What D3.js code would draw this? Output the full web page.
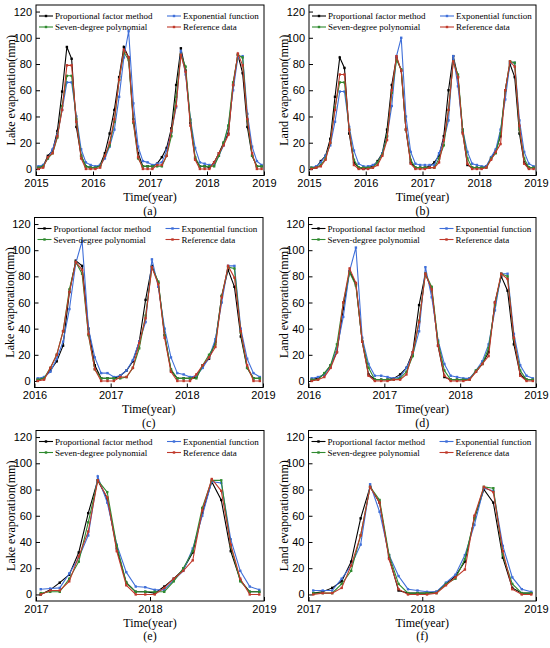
<!DOCTYPE html>
<html>
<head>
<meta charset="utf-8">
<script src="https://cdn.jsdelivr.net/npm/d3@7/dist/d3.min.js"></script>
<style>
  body { margin: 0; background: #fff; }
  svg { display: block; font-family: "Liberation Serif", "Times New Roman", serif; }
</style>
</head>
<body>
<svg id="svg" width="550" height="648"></svg>
<script>
// monthly evaporation (mm), Jan 2015 .. Dec 2018
const lakeRef = [
  0, 1, 9, 12, 25, 45, 79, 79, 36, 8, 0, 0,
  0, 1, 10, 20, 38, 68, 91, 85, 36, 9, 0, 0,
  0, 3, 3, 10, 29, 48, 87, 74, 33, 7, 0, 0,
  0, 5, 12, 18, 26, 64, 88, 79, 38, 12, 0, 0
];
const landRef = [
  0, 1, 2, 7, 20, 45, 72, 72, 30, 3, 0, 0,
  0, 1, 3, 10, 22, 60, 86, 75, 30, 4, 0, 0,
  0, 1, 1, 5, 22, 45, 82, 70, 27, 4, 0, 0,
  0, 1, 7, 13, 19, 60, 82, 78, 33, 4, 0, 0
];

// (a) lake, 2015-2018
const lakePropA = [
  1, 2, 10, 14, 29, 59, 93, 84, 32, 10, 2, 1,
  1, 3, 12, 27, 45, 70, 93, 85, 38, 12, 2, 2,
  2, 4, 9, 16, 31, 64, 92, 75, 35, 8, 2, 2,
  1, 5, 12, 20, 27, 64, 87, 73, 32, 10, 2, 2
];
const lakeExpA = [
  2, 3, 8, 15, 26, 45, 66, 66, 40, 15, 5, 3,
  2, 3, 8, 17, 30, 55, 85, 105, 50, 17, 6, 5,
  3, 4, 5, 14, 28, 47, 90, 72, 38, 16, 5, 4,
  3, 3, 10, 18, 33, 60, 85, 86, 42, 17, 6, 3
];
const lakePolyA = [
  1, 2, 8, 12, 24, 48, 71, 71, 38, 10, 2, 1,
  1, 2, 10, 18, 36, 68, 89, 83, 35, 8, 2, 2,
  2, 2, 2, 10, 25, 55, 87, 78, 37, 9, 2, 2,
  2, 2, 10, 20, 33, 66, 87, 85, 37, 10, 2, 2
];

// (b) land, 2015-2018
const landPropB = [
  0, 1, 6, 10, 23, 55, 85, 77, 27, 5, 1, 0,
  1, 2, 6, 12, 30, 64, 85, 75, 30, 5, 1, 1,
  1, 2, 5, 10, 25, 60, 86, 70, 28, 3, 1, 1,
  1, 2, 8, 14, 25, 60, 80, 70, 27, 5, 1, 1
];
const landExpB = [
  1, 2, 5, 10, 18, 36, 59, 59, 32, 14, 4, 2,
  2, 3, 5, 12, 25, 48, 86, 100, 40, 13, 4, 3,
  3, 3, 3, 12, 22, 37, 86, 63, 30, 13, 4, 3,
  2, 2, 9, 15, 30, 53, 81, 81, 37, 13, 4, 2
];
const landPolyB = [
  1, 1, 3, 8, 20, 47, 66, 66, 30, 7, 1, 1,
  1, 1, 5, 11, 25, 58, 83, 76, 30, 7, 1, 1,
  1, 1, 1, 8, 18, 45, 82, 72, 30, 8, 1, 1,
  1, 1, 8, 12, 27, 60, 82, 81, 30, 8, 1, 1
];

// (c) lake, 2016-2018
const lakePropC = [
  1, 2, 8, 15, 27, 68, 92, 88, 40, 12, 2, 2,
  2, 4, 8, 15, 30, 62, 88, 75, 35, 8, 2, 2,
  2, 3, 12, 17, 30, 65, 85, 72, 34, 10, 2, 2
];
const lakeExpC = [
  2, 3, 7, 17, 30, 55, 90, 107, 40, 18, 6, 6,
  3, 4, 8, 16, 30, 45, 93, 72, 40, 18, 6, 5,
  3, 4, 10, 18, 32, 60, 88, 88, 40, 17, 6, 3
];
const lakePolyC = [
  1, 2, 10, 20, 38, 70, 91, 82, 35, 9, 2, 2,
  2, 2, 3, 10, 25, 50, 87, 76, 35, 9, 2, 2,
  2, 2, 12, 20, 28, 65, 87, 86, 37, 10, 2, 2
];

// (d) land, 2016-2018
const landPropD = [
  1, 2, 5, 12, 22, 55, 84, 74, 30, 5, 1, 1,
  1, 2, 5, 10, 22, 58, 82, 70, 27, 3, 1, 1,
  1, 2, 7, 13, 22, 60, 80, 69, 28, 5, 1, 1
];
const landExpD = [
  2, 3, 5, 11, 25, 49, 84, 102, 33, 13, 4, 4,
  3, 2, 3, 10, 20, 38, 87, 64, 31, 13, 4, 3,
  2, 2, 8, 15, 28, 54, 82, 82, 36, 12, 4, 2
];
const landPolyD = [
  1, 1, 6, 12, 28, 60, 83, 73, 30, 10, 1, 1,
  1, 1, 2, 7, 19, 46, 82, 72, 30, 8, 1, 1,
  1, 1, 8, 13, 25, 58, 82, 80, 32, 8, 1, 1
];

// (e) lake, 2017-2018
const lakePropE = [
  0, 3.5, 9, 15, 32, 62, 87, 73, 35, 9, 2, 2,
  1, 6, 12, 19, 32, 62, 86, 72, 33, 11, 2, 2
];
const lakeExpE = [
  4, 4.5, 5, 16, 28, 45, 90, 70, 38, 17, 6, 5.5,
  3.5, 3.5, 11, 18, 35, 60, 86, 85, 42, 18, 6, 3.5
];
const lakePolyE = [
  1, 2, 2, 12, 25, 55, 87, 78, 37, 9, 2, 2,
  2, 2, 10, 20, 33, 66, 87, 87, 37, 10, 2, 2
];

// (f) land, 2017-2018
const landPropF = [
  1, 2, 5, 10, 25, 58, 82, 70, 28, 3, 1, 1,
  1, 2, 8, 14, 25, 58, 80, 70, 28, 5, 1, 1
];
const landExpF = [
  3, 3, 3, 12, 22, 38, 84, 63, 30, 14, 4, 3,
  2, 2, 9, 15, 30, 53, 81, 79, 37, 13, 4, 2
];
const landPolyF = [
  1, 1, 1, 8, 18, 45, 82, 72, 30, 8, 1, 1,
  1, 1, 8, 12, 27, 58, 82, 81, 30, 8, 1, 1
];

const seriesNames = ["Proportional factor method", "Exponential function", "Seven-degree polynomial", "Reference data"];
const seriesColors = ["#000000", "#3f6fd9", "#2f8a2f", "#c0392b"];
const yTicks = [0, 20, 40, 60, 80, 100, 120];

const panels = [
  { tag: "(a)", title: "Lake evaporation(mm)", start: 2015, x0: 36, x1: 264, y0: 5, y1: 175.5,
    series: [lakePropA, lakeExpA, lakePolyA, lakeRef] },
  { tag: "(b)", title: "Land evaporation(mm)", start: 2015, x0: 309, x1: 536, y0: 5, y1: 175.5,
    series: [landPropB, landExpB, landPolyB, landRef] },
  { tag: "(c)", title: "Lake evaporation(mm)", start: 2016, x0: 34.5, x1: 263, y0: 217.5, y1: 387.5,
    series: [lakePropC, lakeExpC, lakePolyC, lakeRef.slice(12)] },
  { tag: "(d)", title: "Land evaporation(mm)", start: 2016, x0: 308.5, x1: 536, y0: 217.5, y1: 387.5,
    series: [landPropD, landExpD, landPolyD, landRef.slice(12)] },
  { tag: "(e)", title: "Lake evaporation(mm)", start: 2017, x0: 36, x1: 264, y0: 430.5, y1: 601,
    series: [lakePropE, lakeExpE, lakePolyE, lakeRef.slice(24)] },
  { tag: "(f)", title: "Land evaporation(mm)", start: 2017, x0: 308.5, x1: 536, y0: 430.5, y1: 601,
    series: [landPropF, landExpF, landPolyF, landRef.slice(24)] }
];

const svg = d3.select("#svg");

panels.forEach(p => {
  const x = d3.scaleLinear().domain([p.start, 2019]).range([p.x0, p.x1]);
  const y = d3.scaleLinear().domain([-5, 125]).range([p.y1, p.y0]);
  const g = svg.append("g");

  const years = d3.range(p.start, 2020);

  g.append("g")
    .attr("transform", `translate(0,${p.y1})`)
    .call(d3.axisBottom(x).tickValues(years).tickFormat(d3.format("d"))
      .tickSizeInner(-4).tickSizeOuter(0).tickPadding(4))
    .call(a => a.select(".domain").remove())
    .selectAll("text").attr("font-size", 11).attr("fill", "#000");

  g.append("g")
    .attr("transform", `translate(${p.x0},0)`)
    .call(d3.axisLeft(y).tickValues(yTicks)
      .tickSizeInner(-4).tickSizeOuter(0).tickPadding(4))
    .call(a => a.select(".domain").remove())
    .selectAll("text").attr("font-size", 11).attr("fill", "#000");

  g.append("rect")
    .attr("x", p.x0).attr("y", p.y0)
    .attr("width", p.x1 - p.x0).attr("height", p.y1 - p.y0)
    .attr("fill", "none").attr("stroke", "#000").attr("stroke-width", 1);

  const clipId = "clip" + p.tag.replace(/\W/g, "");
  g.append("clipPath").attr("id", clipId).append("rect")
    .attr("x", p.x0).attr("y", p.y0)
    .attr("width", p.x1 - p.x0).attr("height", p.y1 - p.y0);

  const plot = g.append("g").attr("clip-path", `url(#${clipId})`);
  const tx = i => p.start + (i + 0.5) / 12;
  const line = d3.line().x((d, i) => x(tx(i))).y(d => y(d));

  p.series.forEach((vals, k) => {
    plot.append("path")
      .datum(vals)
      .attr("d", line)
      .attr("fill", "none")
      .attr("stroke", seriesColors[k])
      .attr("stroke-width", 1.1);
    plot.selectAll(null)
      .data(vals)
      .join("rect")
      .attr("x", (d, i) => x(tx(i)) - 1.2)
      .attr("y", d => y(d) - 1.2)
      .attr("width", 2.4).attr("height", 2.4)
      .attr("fill", seriesColors[k]);
  });

  // legend
  const lg = g.append("g").attr("transform", `translate(${p.x0},${p.y0})`);
  const spots = [[3, 11], [131, 11], [3, 22], [131, 22]];
  seriesNames.forEach((name, k) => {
    const [lx, ly] = spots[k];
    lg.append("line")
      .attr("x1", lx).attr("x2", lx + 14).attr("y1", ly).attr("y2", ly)
      .attr("stroke", seriesColors[k]).attr("stroke-width", 1.1);
    lg.append("rect")
      .attr("x", lx + 7 - 1.2).attr("y", ly - 1.2)
      .attr("width", 2.4).attr("height", 2.4)
      .attr("fill", seriesColors[k]);
    lg.append("text")
      .attr("x", lx + 16).attr("y", ly)
      .attr("dy", "0.35em")
      .attr("font-size", 9)
      .text(name);
  });

  g.append("text")
    .attr("transform", `translate(${p.x0 - 21},${(p.y0 + p.y1) / 2}) rotate(-90)`)
    .attr("text-anchor", "middle")
    .attr("font-size", 12)
    .text(p.title);

  g.append("text")
    .attr("x", (p.x0 + p.x1) / 2).attr("y", p.y1 + 25.5)
    .attr("text-anchor", "middle")
    .attr("font-size", 12)
    .text("Time(year)");

  g.append("text")
    .attr("x", (p.x0 + p.x1) / 2).attr("y", p.y1 + 39)
    .attr("text-anchor", "middle")
    .attr("font-size", 12)
    .text(p.tag);
});
</script>
</body>
</html>
